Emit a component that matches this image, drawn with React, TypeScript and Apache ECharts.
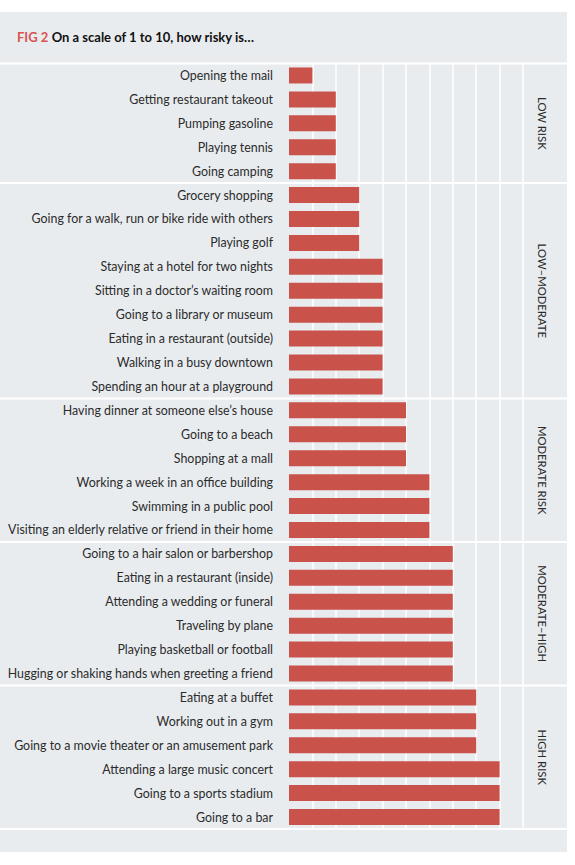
import React, { useEffect, useRef } from "react";
import * as echarts from "echarts";

const categories = [
  "Opening the mail",
  "Getting restaurant takeout",
  "Pumping gasoline",
  "Playing tennis",
  "Going camping",
  "Grocery shopping",
  "Going for a walk, run or bike ride with others",
  "Playing golf",
  "Staying at a hotel for two nights",
  "Sitting in a doctor’s waiting room",
  "Going to a library or museum",
  "Eating in a restaurant (outside)",
  "Walking in a busy downtown",
  "Spending an hour at a playground",
  "Having dinner at someone else’s house",
  "Going to a beach",
  "Shopping at a mall",
  "Working a week in an office building",
  "Swimming in a public pool",
  "Visiting an elderly relative or friend in their home",
  "Going to a hair salon or barbershop",
  "Eating in a restaurant (inside)",
  "Attending a wedding or funeral",
  "Traveling by plane",
  "Playing basketball or football",
  "Hugging or shaking hands when greeting a friend",
  "Eating at a buffet",
  "Working out in a gym",
  "Going to a movie theater or an amusement park",
  "Attending a large music concert",
  "Going to a sports stadium",
  "Going to a bar",
];

const riskValues = [
  1, 2, 2, 2, 2,
  3, 3, 3, 4, 4, 4, 4, 4, 4,
  5, 5, 5, 6, 6, 6,
  7, 7, 7, 7, 7, 7,
  8, 8, 8, 9, 9, 9,
];

const groupNames = ["LOW RISK", "LOW–MODERATE", "MODERATE RISK", "MODERATE–HIGH", "HIGH RISK"];
const groupSizes = [5, 9, 6, 6, 6];

const titleFig = "FIG 2";
const titleText = "On a scale of 1 to 10, how risky is…";

const FONT = "Lato, 'Noto Sans', sans-serif";
const BG = "#e9ecef";
const BAR = "#c9524b";
const TEXT = "#2b2b2b";

export default function App() {
  const ref = useRef<HTMLDivElement>(null);

  useEffect(() => {
    document.body.style.margin = "0";
    if (!ref.current) return;
    const chart = echarts.init(ref.current, undefined, { renderer: "svg" });

    const gridLeft = 289;
    const gridRight = 52;
    const gridTop = 63.5;
    const gridBottom = 36;

    chart.setOption({
      animation: false,
      backgroundColor: "#ffffff",
      textStyle: { fontFamily: FONT },
      grid: { left: gridLeft, right: gridRight, top: gridTop, bottom: gridBottom, containLabel: false },
      xAxis: {
        type: "value",
        min: 0,
        max: 10,
        interval: 1,
        axisLabel: { show: false },
        axisLine: { show: false },
        axisTick: { show: false },
        splitLine: { show: true, showMinLine: false, lineStyle: { color: "#ffffff", width: 1.5 } },
      },
      yAxis: {
        type: "category",
        inverse: true,
        data: categories,
        axisLine: { show: false },
        axisTick: { show: false },
        splitLine: { show: false },
        axisLabel: { color: TEXT, fontSize: 12.4, fontFamily: FONT, margin: 16 },
      },
      series: [
        {
          type: "bar",
          data: riskValues,
          barWidth: 16,
          itemStyle: { color: BAR },
          z: 3,
        },
      ],
    });

    const yOf = (i: number) => chart.convertToPixel({ yAxisIndex: 0 }, i) as number;
    const band = yOf(1) - yOf(0);
    const boundary = (i: number) => yOf(0) + (i - 0.5) * band;
    const xMax = chart.convertToPixel({ xAxisIndex: 0 }, 10) as number;

    const panelRight = 567;
    const graphics: any[] = [
      {
        type: "rect",
        z: -10,
        silent: true,
        shape: { x: 0, y: 12, width: panelRight, height: 840 },
        style: { fill: BG },
      },
      {
        type: "text",
        z: 10,
        x: 17,
        y: 37,
        style: {
          text: `{r|${titleFig}} {b|${titleText}}`,
          verticalAlign: "middle",
          rich: {
            r: { fill: "#d9534f", fontSize: 13, fontWeight: "bold", fontFamily: FONT },
            b: { fill: "#111111", fontSize: 13, fontWeight: "bold", fontFamily: FONT },
          },
        },
      },
    ];

    let start = 0;
    const seps = [0];
    groupSizes.forEach((n) => {
      start += n;
      seps.push(start);
    });
    seps.forEach((i) => {
      const y = boundary(i);
      graphics.push({
        type: "line",
        z: 5,
        silent: true,
        shape: { x1: 0, y1: y, x2: panelRight, y2: y },
        style: { stroke: "#ffffff", lineWidth: 2 },
      });
    });

    let s = 0;
    groupNames.forEach((name, gi) => {
      const a = boundary(s);
      const b = boundary(s + groupSizes[gi]);
      s += groupSizes[gi];
      graphics.push({
        type: "text",
        z: 10,
        x: (xMax + panelRight) / 2 - 3,
        y: (a + b) / 2,
        rotation: -Math.PI / 2,
        style: {
          text: name,
          align: "center",
          verticalAlign: "middle",
          fill: TEXT,
          fontSize: 11.3,
          fontFamily: FONT,
        },
      });
    });

    chart.setOption({ graphic: graphics });

    return () => chart.dispose();
  }, []);

  return <div ref={ref} style={{ width: 575, height: 865 }} />;
}
